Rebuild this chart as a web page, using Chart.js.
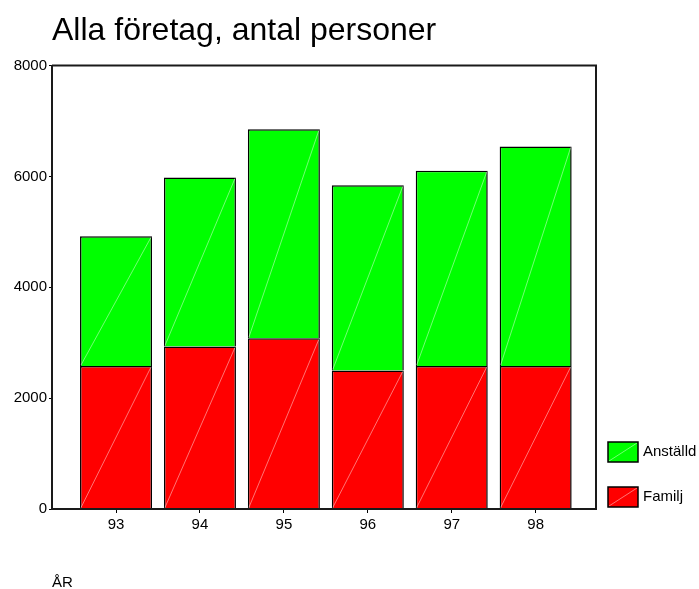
<!DOCTYPE html>
<html>
<head>
<meta charset="utf-8">
<script src="https://cdn.jsdelivr.net/npm/chart.js@4/dist/chart.umd.min.js"></script>
<style>
html, body { margin: 0; padding: 0; background: #fff; }
canvas { display: block; }
</style>
</head>
<body>
<canvas id="c" width="699" height="589"></canvas>
<script>
// ---- data ----
const categories = [93, 94, 95, 96, 97, 98];
const familj = [2580, 2930, 3080, 2500, 2580, 2580];
const anstalld = [2340, 3050, 3770, 3340, 3520, 3960];
const yTicks = [0, 2000, 4000, 6000, 8000];
const seriesNames = ['Familj', 'Anställd'];
const seriesColors = ['#ff0000', '#00ff00'];
const chartTitle = 'Alla företag, antal personer';
const xTitle = 'ÅR';

const FONT = '"Liberation Sans", Arial, Helvetica, sans-serif';
const LINE = '#1a1a1a';

function diag(ctx, x0, y0, x1, y1) {
  ctx.beginPath();
  ctx.moveTo(x0, y0);
  ctx.lineTo(x1, y1);
  ctx.stroke();
}

const decoPlugin = {
  id: 'deco',
  afterDatasetsDraw(chart) {
    const ctx = chart.ctx;
    ctx.save();
    ctx.strokeStyle = 'rgba(255,255,255,0.45)';
    ctx.lineWidth = 1;
    chart.data.datasets.forEach((ds, i) => {
      const meta = chart.getDatasetMeta(i);
      meta.data.forEach(bar => {
        const p = bar.getProps(['x', 'y', 'base', 'width'], true);
        diag(ctx, p.x - p.width / 2 + 1, p.base - 1, p.x + p.width / 2 - 1, p.y + 1);
      });
    });
    ctx.restore();
  },
  afterDraw(chart) {
    const ctx = chart.ctx;
    const a = chart.chartArea;
    ctx.save();
    // frame: top and right edges
    ctx.strokeStyle = LINE;
    ctx.lineWidth = 2;
    ctx.beginPath();
    ctx.moveTo(a.left, a.top);
    ctx.lineTo(a.right, a.top);
    ctx.lineTo(a.right, a.bottom);
    ctx.stroke();

    // legend (reverse order: top item is last dataset)
    const ds = chart.data.datasets;
    const n = ds.length;
    const bx = a.right + 12;
    for (let k = 0; k < n; k++) {
      const d = ds[n - 1 - k];
      const top = a.bottom - 22 - (n - 1 - k) * 45;
      ctx.fillStyle = d.backgroundColor;
      ctx.fillRect(bx, top, 30, 20);
      ctx.strokeStyle = 'rgba(255,255,255,0.45)';
      ctx.lineWidth = 1;
      diag(ctx, bx + 1, top + 19, bx + 29, top + 1);
      ctx.strokeStyle = '#000';
      ctx.lineWidth = 1.5;
      ctx.strokeRect(bx, top, 30, 20);
      ctx.fillStyle = '#000';
      ctx.font = '15px ' + FONT;
      ctx.textBaseline = 'middle';
      ctx.textAlign = 'left';
      ctx.fillText(d.label, bx + 35, top + 10);
    }
    ctx.restore();
  }
};

new Chart(document.getElementById('c'), {
  type: 'bar',
  data: {
    datasets: [
      {
        label: seriesNames[0],
        data: categories.map((c, i) => ({ x: c, y: familj[i] })),
        backgroundColor: seriesColors[0],
        borderColor: '#000',
        borderWidth: 1.5
      },
      {
        label: seriesNames[1],
        data: categories.map((c, i) => ({ x: c, y: anstalld[i] })),
        backgroundColor: seriesColors[1],
        borderColor: '#000',
        borderWidth: 1.5
      }
    ]
  },
  options: {
    responsive: false,
    animation: false,
    devicePixelRatio: 1,
    categoryPercentage: 1,
    barPercentage: 0.858,
    layout: { padding: { left: 0, right: 103, top: 0, bottom: 0 } },
    plugins: {
      legend: { display: false },
      tooltip: { enabled: false },
      title: {
        display: true,
        text: chartTitle,
        align: 'start',
        fullSize: false,
        color: '#000',
        font: { family: FONT, size: 32, weight: 'normal' },
        padding: { top: 12, bottom: 15.1 }
      }
    },
    scales: {
      x: {
        type: 'linear',
        stacked: true,
        offset: false,
        min: 92.237,
        max: 98.719,
        afterBuildTicks: s => { s.ticks = categories.map(v => ({ value: v })); },
        afterFit: s => { s.height = 80; },
        ticks: {
          callback: v => String(v),
          color: '#000',
          font: { family: FONT, size: 15 },
          padding: 3,
          maxRotation: 0,
          autoSkip: false
        },
        grid: {
          display: true,
          offset: false,
          drawOnChartArea: false,
          drawTicks: true,
          tickLength: 4,
          color: '#000',
          tickColor: '#000',
          lineWidth: 1
        },
        border: { display: true, color: LINE, width: 2, z: 1 },
        title: {
          display: true,
          text: xTitle,
          align: 'start',
          color: '#000',
          font: { family: FONT, size: 15 },
          padding: { top: 0, bottom: -3 }
        }
      },
      y: {
        stacked: true,
        min: 0,
        max: 8000,
        afterBuildTicks: s => { s.ticks = yTicks.map(v => ({ value: v })); },
        afterFit: s => { s.width = 52; },
        ticks: {
          callback: v => String(v),
          color: '#000',
          font: { family: FONT, size: 15 },
          padding: 2
        },
        grid: {
          display: true,
          drawOnChartArea: false,
          drawTicks: true,
          tickLength: 3,
          color: '#000',
          tickColor: '#000',
          lineWidth: 1
        },
        border: { display: true, color: LINE, width: 2, z: 1 }
      }
    }
  },
  plugins: [decoPlugin]
});
</script>
</body>
</html>
